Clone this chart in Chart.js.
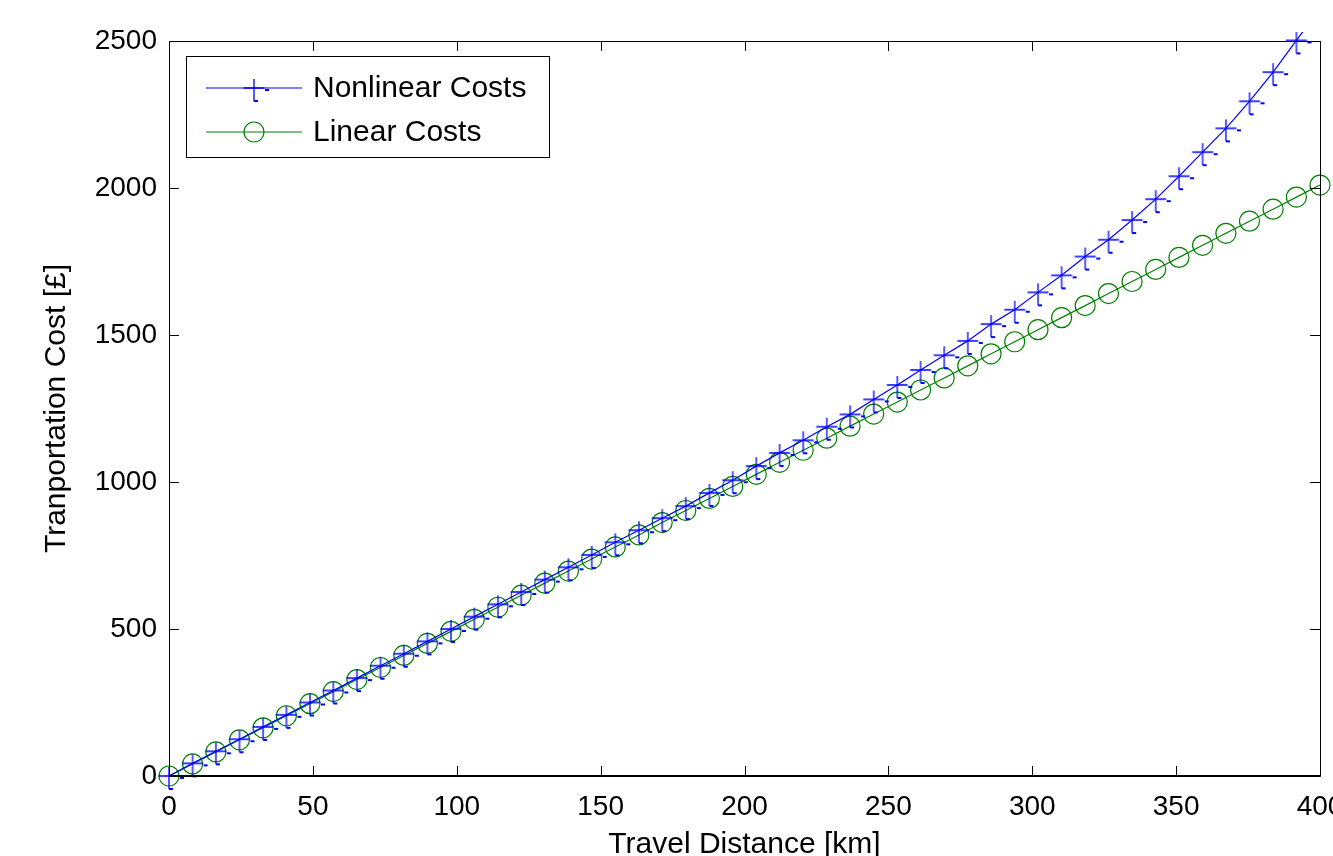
<!DOCTYPE HTML>
<html>

<head>
  <meta charset="utf-8" />
  <script src="https://cdn.jsdelivr.net/npm/chart.js@4.4.1/dist/chart.umd.min.js"></script>
  <style>
    body {
      margin: 0;
      background: #ffffff;
      overflow: hidden;
    }

    canvas {
      display: block;
    }
  </style>
</head>

<body>
  <canvas id="chart-cost" width="1333" height="856"></canvas>
</body>
<script>
  // data
  var distance = [0, 8.2, 16.3, 24.5, 32.7, 40.8, 49.0, 57.1, 65.3, 73.5,
    81.6, 89.8, 98.0, 106.1, 114.3, 122.4, 130.6, 138.8, 146.9, 155.1,
    163.3, 171.4, 179.6, 187.8, 195.9, 204.1, 212.2, 220.4, 228.6, 236.7,
    244.9, 253.1, 261.2, 269.4, 277.6, 285.7, 293.9, 302.0, 310.2, 318.4,
    326.5, 334.7, 342.9, 351.0, 359.2, 367.3, 375.5, 383.7, 391.8, 400];

  var nonlinearCost = [0, 43, 84, 125, 167, 208, 250, 291, 333, 375,
    416, 458, 500, 542, 584, 626, 668, 710, 752, 795,
    836, 877, 918, 963, 1006, 1054, 1099, 1142, 1188, 1230,
    1281, 1330, 1381, 1431, 1480, 1537, 1586, 1645, 1703, 1767,
    1824, 1891, 1962, 2040, 2122, 2203, 2295, 2394, 2502, 2610];

  var linearCost = [0, 41, 82, 123, 164, 205, 246, 287, 328, 369,
    410, 451, 492, 533, 574, 615, 656, 697, 738, 779,
    820, 862, 903, 944, 985, 1026, 1067, 1108, 1149, 1190,
    1231, 1272, 1313, 1354, 1395, 1436, 1477, 1518, 1559, 1600,
    1641, 1682, 1723, 1764, 1805, 1846, 1887, 1928, 1969, 2010];

  var xTicks = [0, 50, 100, 150, 200, 250, 300, 350, 400];
  var yTicks = [0, 500, 1000, 1500, 2000, 2500];
  var seriesNames = ['Nonlinear Costs', 'Linear Costs'];

  var FONT = "'Liberation Sans', Arial, sans-serif";
  var BLUE = 'rgb(0, 0, 255)';
  var GREEN = 'rgb(0, 128, 0)';

  // matlab style '+' marker, with the little render glitches
  function makeCross() {
    var c = document.createElement('canvas');
    c.width = 36;
    c.height = 36;
    var g = c.getContext('2d');
    g.strokeStyle = BLUE;
    g.lineWidth = 1.3;
    g.beginPath();
    g.moveTo(7.5, 18);
    g.lineTo(28.5, 18);
    g.moveTo(18, 9);
    g.lineTo(18, 31);
    g.stroke();
    g.fillStyle = BLUE;
    g.fillRect(29, 19, 4, 2);
    g.fillRect(18, 30, 4, 2);
    return c;
  }
  var crossImg = makeCross();

  function toPoints(xs, ys) {
    return xs.map(function (x, i) { return { x: x, y: ys[i] }; });
  }

  // box, inward ticks and legend like the original figure
  var matlabFrame = {
    id: 'matlabFrame',
    afterDatasetsDraw: function (chart) {
      var ctx = chart.ctx;
      var a = chart.chartArea;
      var xs = chart.scales.x;
      var ys = chart.scales.y;
      var tl = 10;
      ctx.save();
      ctx.strokeStyle = '#000';
      ctx.lineWidth = 1;
      ctx.beginPath();
      xTicks.forEach(function (v) {
        var px = Math.round(xs.getPixelForValue(v)) + 0.5;
        ctx.moveTo(px, a.bottom);
        ctx.lineTo(px, a.bottom - tl);
        ctx.moveTo(px, a.top);
        ctx.lineTo(px, a.top + tl);
      });
      yTicks.forEach(function (v) {
        var py = Math.round(ys.getPixelForValue(v)) + 0.5;
        ctx.moveTo(a.left, py);
        ctx.lineTo(a.left + tl, py);
        ctx.moveTo(a.right, py);
        ctx.lineTo(a.right - tl, py);
      });
      ctx.stroke();
      ctx.beginPath();
      ctx.rect(Math.round(a.left) + 0.5, Math.round(a.top) + 0.5,
        Math.round(a.right - a.left), Math.round(a.bottom - a.top));
      ctx.stroke();
      ctx.lineWidth = 2;
      ctx.beginPath();
      ctx.moveTo(a.left, a.bottom);
      ctx.lineTo(a.right, a.bottom);
      ctx.stroke();

      // legend
      var lx = 186.5, ly = 56.5, lw = 363, lh = 101;
      ctx.fillStyle = '#fff';
      ctx.fillRect(lx, ly, lw, lh);
      ctx.lineWidth = 1;
      ctx.strokeRect(lx, ly, lw, lh);
      var rows = [88, 132];
      chart.data.datasets.forEach(function (ds, i) {
        var y = rows[i];
        ctx.strokeStyle = ds.borderColor;
        ctx.lineWidth = 1.2;
        ctx.beginPath();
        ctx.moveTo(206, y);
        ctx.lineTo(302, y);
        ctx.stroke();
        if (ds.pointStyle === 'circle') {
          ctx.beginPath();
          ctx.arc(254, y, 10, 0, Math.PI * 2);
          ctx.stroke();
        } else {
          ctx.drawImage(crossImg, 254 - 18, y - 18);
        }
        ctx.fillStyle = '#000';
        ctx.font = '30px ' + FONT;
        ctx.textAlign = 'left';
        ctx.textBaseline = 'middle';
        ctx.fillText(ds.label, 313, y + 1);
      });
      ctx.restore();
    }
  };

  var ctxCost = document.getElementById('chart-cost');
  var chartCost = new Chart(ctxCost, {
    type: 'line',
    data: {
      datasets: [{
        label: seriesNames[0],
        data: toPoints(distance, nonlinearCost),
        borderColor: BLUE,
        borderWidth: 1.2,
        pointStyle: crossImg,
        pointRadius: 10,
        pointBorderColor: BLUE,
        backgroundColor: BLUE,
        fill: false,
        tension: 0,
        clip: { left: 15, top: 9, right: 15, bottom: 15 }
      }, {
        label: seriesNames[1],
        data: toPoints(distance, linearCost),
        borderColor: GREEN,
        borderWidth: 1.2,
        pointStyle: 'circle',
        pointRadius: 10,
        pointBorderWidth: 1.2,
        pointBorderColor: GREEN,
        pointBackgroundColor: 'rgba(0,0,0,0)',
        backgroundColor: 'rgba(0,0,0,0)',
        fill: false,
        tension: 0,
        clip: { left: 15, top: 9, right: 15, bottom: 15 }
      }]
    },
    options: {
      responsive: false,
      animation: false,
      devicePixelRatio: 1,
      layout: {
        autoPadding: false,
        padding: { top: 41, right: 13, left: 0, bottom: 0 }
      },
      scales: {
        x: {
          type: 'linear',
          min: 0,
          max: 400,
          afterBuildTicks: function (s) { s.ticks = xTicks.map(function (v) { return { value: v }; }); },
          afterFit: function (s) {
            s.height = 80;
            s.paddingLeft = 0;
            s.paddingRight = 0;
          },
          grid: { display: false, drawTicks: false },
          border: { display: false },
          ticks: {
            color: '#000',
            padding: 14,
            maxRotation: 0,
            autoSkip: false,
            callback: function (v) { return String(v); },
            font: { family: FONT, size: 28 }
          },
          title: {
            display: true,
            text: 'Travel Distance [km]',
            color: '#000',
            font: { family: FONT, size: 30 },
            padding: { top: 0, bottom: -7 }
          }
        },
        y: {
          type: 'linear',
          min: 0,
          max: 2500,
          afterBuildTicks: function (s) { s.ticks = yTicks.map(function (v) { return { value: v }; }); },
          afterFit: function (s) {
            s.width = 169;
            s.paddingTop = 0;
            s.paddingBottom = 0;
          },
          grid: { display: false, drawTicks: false },
          border: { display: false },
          ticks: {
            color: '#000',
            padding: 12,
            autoSkip: false,
            callback: function (v) { return String(v); },
            font: { family: FONT, size: 28 }
          },
          title: {
            display: true,
            text: 'Tranportation Cost [£]',
            color: '#000',
            font: { family: FONT, size: 30 },
            padding: { top: 39, bottom: 0 }
          }
        }
      },
      plugins: {
        legend: { display: false },
        tooltip: { enabled: false }
      }
    },
    plugins: [matlabFrame]
  });
</script>

</html>
